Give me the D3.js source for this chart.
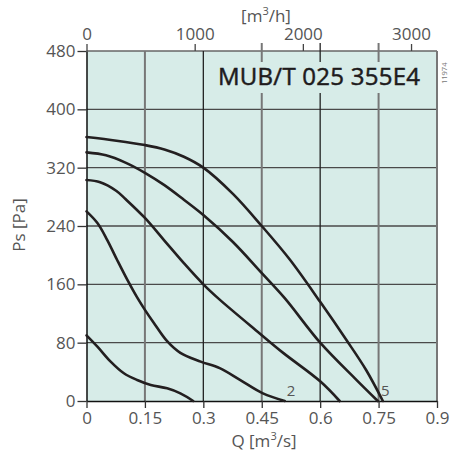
<!DOCTYPE html>
<html>
<head>
<meta charset="utf-8">
<script src="https://cdnjs.cloudflare.com/ajax/libs/d3/7.8.5/d3.min.js"></script>
<style>
  body { margin: 0; background: #fff; }
  svg { display: block; font-family: "Open Sans", sans-serif; }
</style>
</head>
<body>
<svg id="chart" width="451" height="458"></svg>
<script>
// axis ticks
var qTicks = [0, 0.15, 0.3, 0.45, 0.6, 0.75, 0.9];
var qTickLabels = ["0", "0.15", "0.3", "0.45", "0.6", "0.75", "0.9"];
var psTicks = [0, 80, 160, 240, 320, 400, 480];
var hourTicks = [0, 1000, 2000, 3000];

// fan curves, Q [m3/s] vs Ps [Pa]
var curve1Q  = [0, 0.028, 0.062, 0.096, 0.13, 0.165, 0.207, 0.241, 0.274];
var curve1Ps = [90, 74.5, 54, 38, 28.8, 22, 17.4, 10.5, 0];
var curve2Q  = [0, 0.028, 0.053, 0.079, 0.105, 0.13, 0.15, 0.173, 0.207, 0.241, 0.293, 0.342, 0.394, 0.453, 0.509];
var curve2Ps = [260, 244, 221, 193, 166, 142, 125, 107, 82, 66, 54, 45, 29, 10.5, 0];
var curve3Q  = [0, 0.035, 0.077, 0.1, 0.15, 0.2, 0.25, 0.3, 0.342, 0.444, 0.505, 0.6, 0.65];
var curve3Ps = [303, 300, 288, 277, 251, 220, 189, 160, 139, 93, 66, 27, 0];
var curve4Q  = [0, 0.05, 0.1, 0.15, 0.2, 0.25, 0.3, 0.376, 0.449, 0.509, 0.6, 0.693, 0.748];
var curve4Ps = [341, 337, 327, 313, 296, 276, 255, 218, 176, 141, 80, 29, 0];
var curve5Q  = [0, 0.077, 0.15, 0.2, 0.25, 0.3, 0.376, 0.45, 0.522, 0.6, 0.667, 0.718, 0.761];
var curve5Ps = [362, 357, 351, 345, 335, 320, 284, 240, 194, 136, 84, 42.5, 0];

var curveLabels = ["2", "5"];
var curveLabelQ = [0.514, 0.756];
var curveLabelPs = [7, 7];

var title = "MUB/T 025 355E4";
var drawingNo = "11974";

var bg = "#d7ece8";
var fs = 17;

var svg = d3.select("#chart");

var x = d3.scaleLinear().domain([0, 0.9]).range([86.5, 437]);
var y = d3.scaleLinear().domain([0, 480]).range([401, 51]);
var xh = d3.scaleLinear().domain([0, 0.9 * 3600]).range([86.5, 437]);

// plot background
svg.append("rect")
  .attr("x", x(0)).attr("y", y(480))
  .attr("width", x(0.9) - x(0)).attr("height", y(0) - y(480))
  .attr("fill", bg);

// horizontal grid
svg.append("g").selectAll("line")
  .data(psTicks.filter(function(d) { return d > 0; }))
  .enter().append("line")
  .attr("x1", x(0)).attr("x2", x(0.9))
  .attr("y1", function(d) { return y(d); })
  .attr("y2", function(d) { return y(d); })
  .attr("stroke", function(d) { return d == 480 ? "#666" : "#4a4a4a"; })
  .attr("stroke-width", 1.4);

// vertical grid
svg.append("g").selectAll("line")
  .data(qTicks.filter(function(d) { return d > 0; }))
  .enter().append("line")
  .attr("x1", function(d) { return x(d); })
  .attr("x2", function(d) { return x(d); })
  .attr("y1", function(d) {
    var i = Math.round(d / 0.15);
    return (i == 3 || i == 4 || i == 5) ? y(480) - 8 : y(480);
  })
  .attr("y2", y(0))
  .attr("stroke", function(d) {
    var i = Math.round(d / 0.15);
    return (i == 2 || i == 4) ? "#222" : "#777";
  })
  .attr("stroke-width", function(d) {
    var i = Math.round(d / 0.15);
    return (i == 2 || i == 4) ? 1.3 : 2;
  });

// title with background box over the grid
svg.append("rect")
  .attr("x", 214).attr("y", 62)
  .attr("width", 212).attr("height", 31)
  .attr("fill", bg);
svg.append("text")
  .attr("x", 218).attr("y", 85)
  .attr("font-size", 24)
  .attr("fill", "#1e1b1c")
  .attr("stroke", "#1e1b1c")
  .attr("stroke-width", 0.5)
  .attr("textLength", 202)
  .text(title);

function styleText(g) {
  g.selectAll("text").attr("font-size", fs).attr("fill", "#555").attr("font-family", "Open Sans");
}

// left axis
var yAxis = svg.append("g")
  .attr("transform", "translate(" + x(0) + ",0)")
  .call(d3.axisLeft(y).tickValues(psTicks).tickSize(9).tickPadding(2).tickSizeOuter(0));
yAxis.select(".domain").attr("stroke", "#111").attr("stroke-width", 1.5);
yAxis.selectAll(".tick line").attr("stroke", "#333").attr("stroke-width", 1.3);
styleText(yAxis);

// bottom axis
var xAxis = svg.append("g")
  .attr("transform", "translate(0," + y(0) + ")")
  .call(d3.axisBottom(x).tickValues(qTicks).tickFormat(function(d, i) { return qTickLabels[i]; })
    .tickSize(7).tickPadding(4).tickSizeOuter(0));
xAxis.select(".domain").attr("stroke", "#111").attr("stroke-width", 1.5);
xAxis.selectAll(".tick line").attr("stroke", "#333").attr("stroke-width", 1.3);
styleText(xAxis);

// top axis in m3/h
var topAxis = svg.append("g")
  .attr("transform", "translate(0," + y(480) + ")")
  .call(d3.axisTop(xh).tickValues(hourTicks).tickFormat(d3.format("d"))
    .tickSize(7).tickPadding(4).tickSizeOuter(0));
topAxis.select(".domain").remove();
topAxis.selectAll(".tick line").attr("stroke", "#444").attr("stroke-width", 1.3);
styleText(topAxis);

// axis titles
svg.append("text")
  .attr("x", 266).attr("y", 22)
  .attr("text-anchor", "middle")
  .attr("font-size", fs).attr("fill", "#555")
  .html('[m<tspan dy="-7" font-size="11">3</tspan><tspan dy="7">/h]</tspan>');

svg.append("text")
  .attr("x", 264).attr("y", 447)
  .attr("text-anchor", "middle")
  .attr("font-size", fs).attr("fill", "#555")
  .html('Q [m<tspan dy="-7" font-size="11">3</tspan><tspan dy="7">/s]</tspan>');

svg.append("text")
  .attr("transform", "translate(25,225) rotate(-90)")
  .attr("text-anchor", "middle")
  .attr("font-size", fs).attr("fill", "#555")
  .text("Ps [Pa]");

svg.append("text")
  .attr("transform", "translate(447,84) rotate(-90)")
  .attr("font-size", 7.5).attr("fill", "#777")
  .text(drawingNo);

// curves
var curves = [
  [curve1Q, curve1Ps],
  [curve2Q, curve2Ps],
  [curve3Q, curve3Ps],
  [curve4Q, curve4Ps],
  [curve5Q, curve5Ps]
];

var line = d3.line()
  .x(function(d) { return x(d[0]); })
  .y(function(d) { return y(d[1]); })
  .curve(d3.curveCatmullRom.alpha(0.5));

svg.append("g").selectAll("path")
  .data(curves)
  .enter().append("path")
  .attr("d", function(c) {
    return line(c[0].map(function(q, i) { return [q, c[1][i]]; }));
  })
  .attr("fill", "none")
  .attr("stroke", "#231f20")
  .attr("stroke-width", 2.6)
  .attr("stroke-linecap", "round");

svg.append("g").selectAll("text")
  .data(curveLabels)
  .enter().append("text")
  .attr("x", function(d, i) { return x(curveLabelQ[i]); })
  .attr("y", function(d, i) { return y(curveLabelPs[i]); })
  .attr("font-size", 15).attr("fill", "#555")
  .text(function(d) { return d; });
</script>
</body>
</html>
